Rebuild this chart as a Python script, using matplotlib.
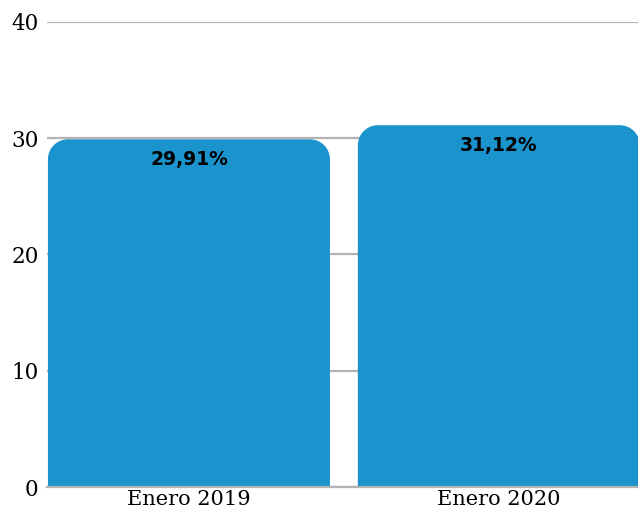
import matplotlib
matplotlib.use("Agg")
import matplotlib.pyplot as plt
from matplotlib.patches import PathPatch
from matplotlib.path import Path

categories = ["Enero 2019", "Enero 2020"]
values = [29.91, 31.12]
labels = ["29,91%", "31,12%"]
yticks = [0, 10, 20, 30, 40]

bar_color = "#1b93cc"
grid_color = "#b3b3b3"

fig = plt.figure(figsize=(6.38, 5.08), dpi=100)
ax = fig.add_axes([47 / 638, 1 - 487 / 508, 1 - 47 / 638, (487 - 22) / 508])
ax.set_xlim(-0.458, 1.449)
ax.set_ylim(0, 40)

ax.set_yticks(yticks)
ax.set_yticklabels([str(t) for t in yticks], fontfamily="DejaVu Serif", fontsize=15.5)
ax.set_xticks(range(len(categories)))
ax.set_xticklabels(categories, fontfamily="DejaVu Serif", fontsize=15)
ax.tick_params(axis="both", length=0)
ax.tick_params(axis="x", pad=2.5)
ax.tick_params(axis="y", pad=6)
for s in ["top", "right", "left"]:
    ax.spines[s].set_visible(False)
ax.spines["bottom"].set_color(grid_color)
ax.spines["bottom"].set_linewidth(1.6)
ax.spines["bottom"].set_zorder(5)
ax.yaxis.grid(True, color=grid_color, linewidth=1.6)
ax.set_axisbelow(True)

# pixel scale for rounding
fig.canvas.draw()
p0 = ax.transData.transform((0, 0))
p1 = ax.transData.transform((1, 1))
px_per_x = p1[0] - p0[0]
px_per_y = p1[1] - p0[1]
radius_px = 20
rx = radius_px / px_per_x
ry = radius_px / px_per_y
k = 0.5523

width = 0.91
bars = ax.bar(range(len(categories)), values, width=width, color=bar_color, alpha=0)
for b, lab in zip(bars, labels):
    x0, h = b.get_x(), b.get_height()
    x1 = x0 + width
    verts = [
        (x0, 0), (x0, h - ry),
        (x0, h - ry + k * ry), (x0 + rx - k * rx, h), (x0 + rx, h),
        (x1 - rx, h),
        (x1 - rx + k * rx, h), (x1, h - ry + k * ry), (x1, h - ry),
        (x1, 0), (x0, 0),
    ]
    codes = [Path.MOVETO, Path.LINETO,
             Path.CURVE4, Path.CURVE4, Path.CURVE4,
             Path.LINETO,
             Path.CURVE4, Path.CURVE4, Path.CURVE4,
             Path.LINETO, Path.CLOSEPOLY]
    ax.add_patch(PathPatch(Path(verts, codes), fc=bar_color, ec="none", zorder=2))
    ax.annotate(lab, (x0 + width / 2, h), xytext=(0, -8), textcoords="offset points",
                ha="center", va="top", fontfamily="DejaVu Sans", fontweight="bold",
                fontsize=13.5, color="black", zorder=4)

fig.savefig("out.png", dpi=100)
